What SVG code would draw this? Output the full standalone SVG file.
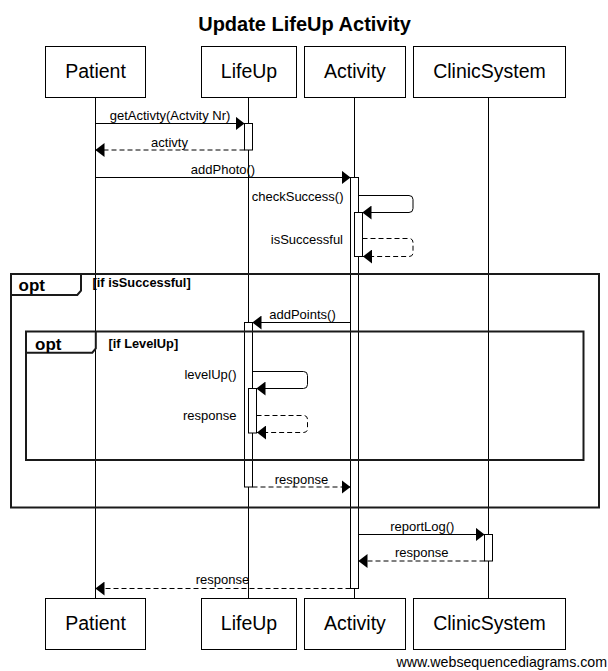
<svg xmlns="http://www.w3.org/2000/svg" width="608" height="671" viewBox="0 0 608 671">
<style>
text{font-family:"Liberation Sans",Arial,sans-serif;fill:#000}
.title{font-size:20px;font-weight:bold}
.actor{font-size:19.5px}
.msg{font-size:13px}
.box{fill:#fff;stroke:#000;stroke-width:1}
.life{stroke:#000;stroke-width:1;fill:none}
.act{fill:#fff;stroke:#000;stroke-width:1}
.line{stroke:#000;stroke-width:1;fill:none}
.dash{stroke-dasharray:5,3}
.frame{fill:none;stroke:#1a1a1a;stroke-width:2}
.opt{font-size:17px;font-weight:bold}
.guard{font-size:12.8px;font-weight:bold}
.foot{font-size:14.2px}
</style>
<defs>
<marker id="ah" markerUnits="userSpaceOnUse" viewBox="0 0 9 14" markerWidth="9" markerHeight="14" refX="9" refY="7" orient="auto">
<path d="M0,0 L9,7 L0,14 z" fill="#000" stroke="none"/>
</marker>
</defs>
<rect width="608" height="671" fill="#fff"/>
<text class="title" x="304.5" y="31" text-anchor="middle">Update LifeUp Activity</text>

<g id="lifelines">
<line class="life" x1="95.5" y1="97.5" x2="95.5" y2="598.5"/>
<line class="life" x1="248.5" y1="97.5" x2="248.5" y2="598.5"/>
<line class="life" x1="354.5" y1="97.5" x2="354.5" y2="598.5"/>
<line class="life" x1="488.5" y1="97.5" x2="488.5" y2="598.5"/>
</g>

<g id="patient">
<rect class="box" x="45.5" y="46.5" width="100" height="51"/>
<text class="actor" x="95.5" y="77.5" text-anchor="middle">Patient</text>
<rect class="box" x="45.5" y="598.5" width="100" height="51"/>
<text class="actor" x="95.5" y="629.5" text-anchor="middle">Patient</text>
</g>
<g id="lifeup">
<rect class="box" x="201.5" y="46.5" width="95" height="51"/>
<text class="actor" x="249" y="77.5" text-anchor="middle">LifeUp</text>
<rect class="box" x="201.5" y="598.5" width="95" height="51"/>
<text class="actor" x="249" y="629.5" text-anchor="middle">LifeUp</text>
<rect class="act" x="244.5" y="123.5" width="8" height="26.5"/>
<rect class="act" x="244.5" y="322.5" width="8" height="164.5"/>
<rect class="act" x="248.5" y="388.5" width="8" height="44.5"/>
</g>
<g id="activity">
<rect class="box" x="304.5" y="46.5" width="101" height="51"/>
<text class="actor" x="355" y="77.5" text-anchor="middle">Activity</text>
<rect class="box" x="304.5" y="598.5" width="101" height="51"/>
<text class="actor" x="355" y="629.5" text-anchor="middle">Activity</text>
<rect class="act" x="350.5" y="177.5" width="8" height="411"/>
<rect class="act" x="354.5" y="212.5" width="8" height="44"/>
</g>
<g id="clinicsystem">
<rect class="box" x="413.5" y="46.5" width="152" height="51"/>
<text class="actor" x="489.5" y="77.5" text-anchor="middle">ClinicSystem</text>
<rect class="box" x="413.5" y="598.5" width="152" height="51"/>
<text class="actor" x="489.5" y="629.5" text-anchor="middle">ClinicSystem</text>
<rect class="act" x="484.5" y="534.5" width="8" height="26.5"/>
</g>

<g id="frame-isSuccessful">
<rect class="frame" x="11" y="274" width="588" height="233.5"/>
<path class="frame" d="M11,295 H77.3 L81,290.7 V274"/>
<text class="opt" x="18.5" y="290.5">opt</text>
<text class="guard" x="92.5" y="287">[if isSuccessful]</text>
</g>
<g id="frame-LevelUp">
<rect class="frame" x="26" y="331.5" width="557.5" height="128.5"/>
<path class="frame" d="M26,352.7 H92.3 L95.8,348.5 V331.5"/>
<text class="opt" x="35" y="349.5">opt</text>
<text class="guard" x="108.5" y="348">[if LevelUp]</text>
</g>

<g id="connectors">
<line class="line" x1="95.5" y1="123.5" x2="244.5" y2="123.5" marker-end="url(#ah)"/>
<text class="msg" x="170" y="120" text-anchor="middle">getActivty(Actvity Nr)</text>

<line class="line dash" x1="244.5" y1="150" x2="95.5" y2="150" marker-end="url(#ah)"/>
<text class="msg" x="169.5" y="146.5" text-anchor="middle">activty</text>

<line class="line" x1="95.5" y1="177.5" x2="350.5" y2="177.5" marker-end="url(#ah)"/>
<text class="msg" x="223" y="174" text-anchor="middle">addPhoto()</text>

<path class="line" d="M358.5,195.5 H409 Q413,195.5 413,199.5 V208.5 Q413,212.5 409,212.5 H362.5" marker-end="url(#ah)"/>
<text class="msg" x="343.5" y="201" text-anchor="end">checkSuccess()</text>

<path class="line dash" d="M362.5,238.5 H409 Q413,238.5 413,242.5 V252.5 Q413,256.5 409,256.5 H363" marker-end="url(#ah)"/>
<text class="msg" x="343" y="244" text-anchor="end">isSuccessful</text>

<line class="line" x1="350.5" y1="322.5" x2="252.5" y2="322.5" marker-end="url(#ah)"/>
<text class="msg" x="302.5" y="319" text-anchor="middle">addPoints()</text>

<path class="line" d="M252.5,371.5 H303.5 Q307.5,371.5 307.5,375.5 V384.5 Q307.5,388.5 303.5,388.5 H256.5" marker-end="url(#ah)"/>
<text class="msg" x="236.5" y="379" text-anchor="end">levelUp()</text>

<path class="line dash" d="M256.5,415.5 H303.5 Q307.5,415.5 307.5,419.5 V428.5 Q307.5,432.5 303.5,432.5 H257" marker-end="url(#ah)"/>
<text class="msg" x="236.5" y="419.5" text-anchor="end">response</text>

<line class="line dash" x1="252.5" y1="487" x2="350.5" y2="487" marker-end="url(#ah)"/>
<text class="msg" x="301.5" y="483.5" text-anchor="middle">response</text>

<line class="line" x1="358.5" y1="534.5" x2="484.5" y2="534.5" marker-end="url(#ah)"/>
<text class="msg" x="422.3" y="530.5" text-anchor="middle">reportLog()</text>

<line class="line dash" x1="484.5" y1="561" x2="358.5" y2="561" marker-end="url(#ah)"/>
<text class="msg" x="421.7" y="557" text-anchor="middle">response</text>

<line class="line dash" x1="350.5" y1="588.5" x2="95.5" y2="588.5" marker-end="url(#ah)"/>
<text class="msg" x="222.5" y="583.5" text-anchor="middle">response</text>
</g>

<text class="foot" x="607" y="667" text-anchor="end">www.websequencediagrams.com</text>
</svg>
